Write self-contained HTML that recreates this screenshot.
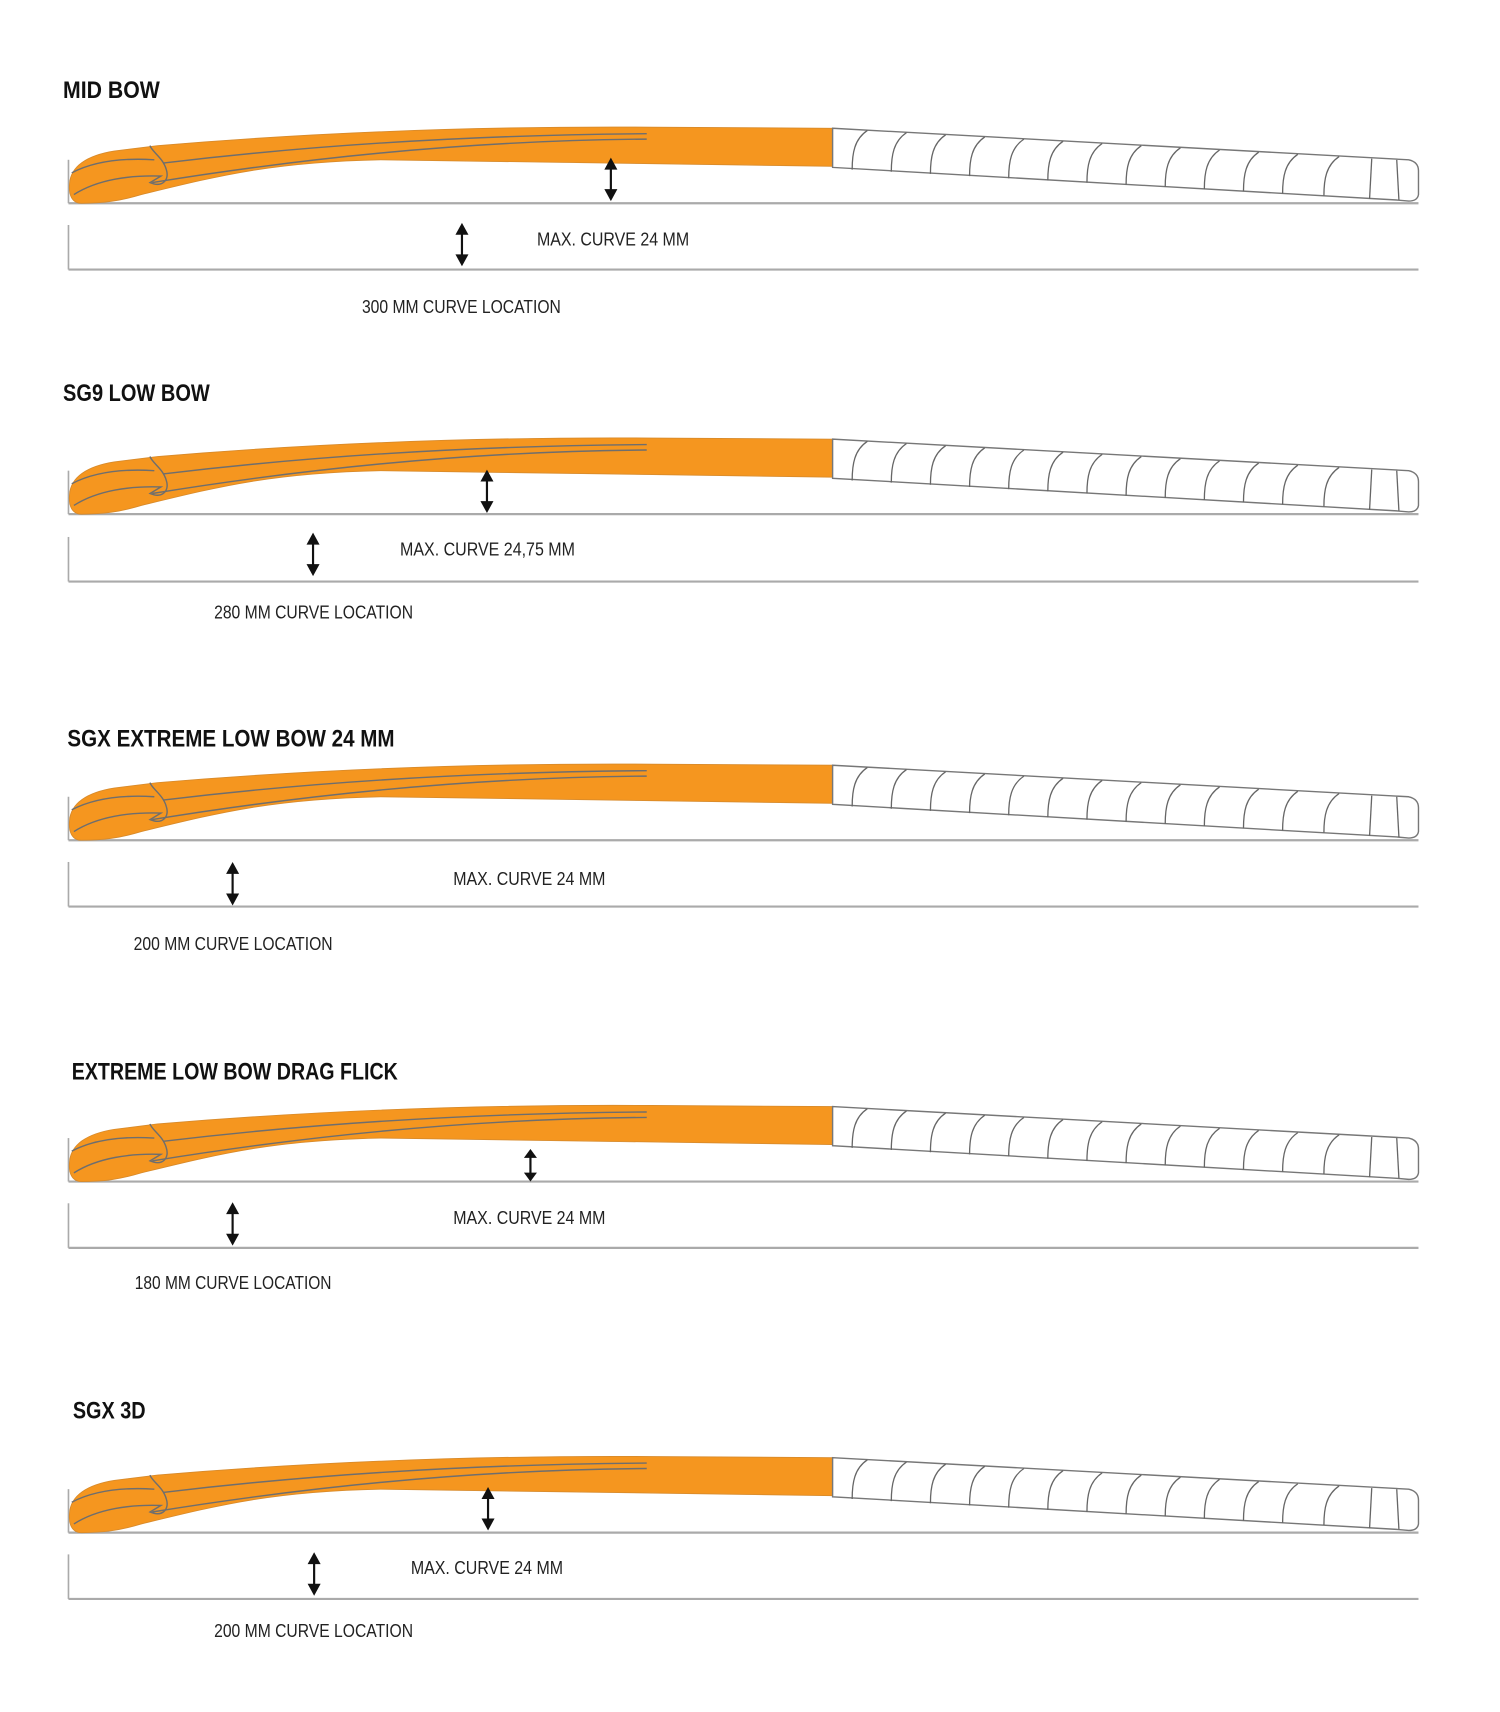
<!DOCTYPE html>
<html><head><meta charset="utf-8"><style>
html,body{margin:0;padding:0;background:#fff;}
svg{display:block;}
.t{font-family:"Liberation Sans Narrow","Liberation Sans",sans-serif;font-weight:bold;font-size:22px;fill:#111;}
.l{font-family:"Liberation Sans Narrow","Liberation Sans",sans-serif;font-size:17px;fill:#222;}
</style></head><body>
<svg width="1500" height="1712" viewBox="0 0 1380 1575" preserveAspectRatio="none" xmlns="http://www.w3.org/2000/svg">
<defs>
<g id="stick">
<line x1="63" y1="-40" x2="63" y2="0" stroke="#aaa" stroke-width="1.5"/>
<line x1="63" y1="0" x2="1305" y2="0" stroke="#aaa" stroke-width="2"/>
<path d="M75 0 C66 0 63 -8 64 -18 C65 -34 80 -44 105 -48 L145 -53 C300 -66 450 -71 600 -70 L766 -69 L766 -34 C650 -36 500 -38 350 -40 C250 -38 200 -25 130 -8 C110 -2 95 0 75 0 Z" fill="#f5961f" stroke="#d88a2a" stroke-width="0.8"/>
<g fill="none" stroke="#6e6e6e" stroke-width="1.3">
<path d="M66 -28 C85 -38 110 -42 142 -40"/>
<path d="M68 -8 C90 -22 120 -26 148 -25 L138 -19 C150 -14 156 -22 153 -31 C150 -42 140 -47 138 -53"/>
<path d="M150 -37 C300 -55 450 -63 595 -64"/>
<path d="M140 -19 C300 -45 450 -58 595 -59"/>
</g>
<path d="M766 -69 L1296 -40 Q1305 -38 1305 -30 L1305 -8 Q1304 -2 1296 -2 L1285 -3 L766 -33 Z" fill="#fff" stroke="#777" stroke-width="1.3"/>
<g fill="none" stroke="#666" stroke-width="1.2">
<path d="M784 -31 C784 -46 786 -59 798 -67"/>
<path d="M820 -29 C820 -44 822 -57 834 -65"/>
<path d="M856 -27 C856 -42 858 -55 870 -63"/>
<path d="M892 -25 C892 -40 894 -53 906 -61"/>
<path d="M928 -23 C928 -38 930 -51 942 -59"/>
<path d="M964 -21 C964 -36 966 -49 978 -57"/>
<path d="M1000 -19 C1000 -34 1002 -47 1014 -55"/>
<path d="M1036 -17 C1036 -32 1038 -45 1050 -53"/>
<path d="M1072 -15 C1072 -30 1074 -43 1086 -51"/>
<path d="M1108 -13 C1108 -28 1110 -41 1122 -49"/>
<path d="M1144 -11 C1144 -26 1146 -39 1158 -47"/>
<path d="M1180 -9 C1180 -24 1182 -37 1194 -45"/>
<path d="M1218 -7 C1218 -22 1220 -35 1232 -43"/>
<path d="M1260 -4 L1262 -41"/>
<path d="M1287 -3 L1285 -40"/>
</g>
</g>
<g id="box">
<line x1="63" y1="-41" x2="63" y2="0" stroke="#aaa" stroke-width="1.5"/>
<line x1="63" y1="0" x2="1305" y2="0" stroke="#aaa" stroke-width="2"/>
</g>
<g id="arr">
<line x1="0" y1="8" x2="0" y2="32" stroke="#111" stroke-width="2"/>
<path d="M-6 11 L0 0 L6 11 Z M-6 29 L0 40 L6 29 Z" fill="#111"/>
</g>
</defs>

<text class="t" x="58" y="90" textLength="89" lengthAdjust="spacingAndGlyphs">MID BOW</text>
<use href="#stick" transform="translate(0,187)"/>
<use href="#arr" transform="translate(562,145)"/>
<use href="#box" transform="translate(0,248)"/>
<use href="#arr" transform="translate(425,205)"/>
<text class="l" x="494" y="226" textLength="140" lengthAdjust="spacingAndGlyphs">MAX. CURVE 24 MM</text>
<text class="l" x="333" y="288" textLength="183" lengthAdjust="spacingAndGlyphs">300 MM CURVE LOCATION</text>

<text class="t" x="58" y="369" textLength="135" lengthAdjust="spacingAndGlyphs">SG9 LOW BOW</text>
<use href="#stick" transform="translate(0,473)"/>
<use href="#arr" transform="translate(448,432)"/>
<use href="#box" transform="translate(0,535)"/>
<use href="#arr" transform="translate(288,490)"/>
<text class="l" x="368" y="511" textLength="161" lengthAdjust="spacingAndGlyphs">MAX. CURVE 24,75 MM</text>
<text class="l" x="197" y="569" textLength="183" lengthAdjust="spacingAndGlyphs">280 MM CURVE LOCATION</text>

<text class="t" x="62" y="687" textLength="301" lengthAdjust="spacingAndGlyphs">SGX EXTREME LOW BOW 24 MM</text>
<use href="#stick" transform="translate(0,773)"/>
<use href="#box" transform="translate(0,834)"/>
<use href="#arr" transform="translate(214,793)"/>
<text class="l" x="417" y="814" textLength="140" lengthAdjust="spacingAndGlyphs">MAX. CURVE 24 MM</text>
<text class="l" x="123" y="874" textLength="183" lengthAdjust="spacingAndGlyphs">200 MM CURVE LOCATION</text>

<text class="t" x="66" y="993" textLength="300" lengthAdjust="spacingAndGlyphs">EXTREME LOW BOW DRAG FLICK</text>
<use href="#stick" transform="translate(0,1087)"/>
<use href="#arr" transform="translate(488,1057) scale(1,0.75)"/>
<use href="#box" transform="translate(0,1148)"/>
<use href="#arr" transform="translate(214,1106)"/>
<text class="l" x="417" y="1126" textLength="140" lengthAdjust="spacingAndGlyphs">MAX. CURVE 24 MM</text>
<text class="l" x="124" y="1186" textLength="181" lengthAdjust="spacingAndGlyphs">180 MM CURVE LOCATION</text>

<text class="t" x="67" y="1305" textLength="67" lengthAdjust="spacingAndGlyphs">SGX 3D</text>
<use href="#stick" transform="translate(0,1410)"/>
<use href="#arr" transform="translate(449,1368)"/>
<use href="#box" transform="translate(0,1471)"/>
<use href="#arr" transform="translate(289,1428)"/>
<text class="l" x="378" y="1448" textLength="140" lengthAdjust="spacingAndGlyphs">MAX. CURVE 24 MM</text>
<text class="l" x="197" y="1506" textLength="183" lengthAdjust="spacingAndGlyphs">200 MM CURVE LOCATION</text>
</svg>
</body></html>
